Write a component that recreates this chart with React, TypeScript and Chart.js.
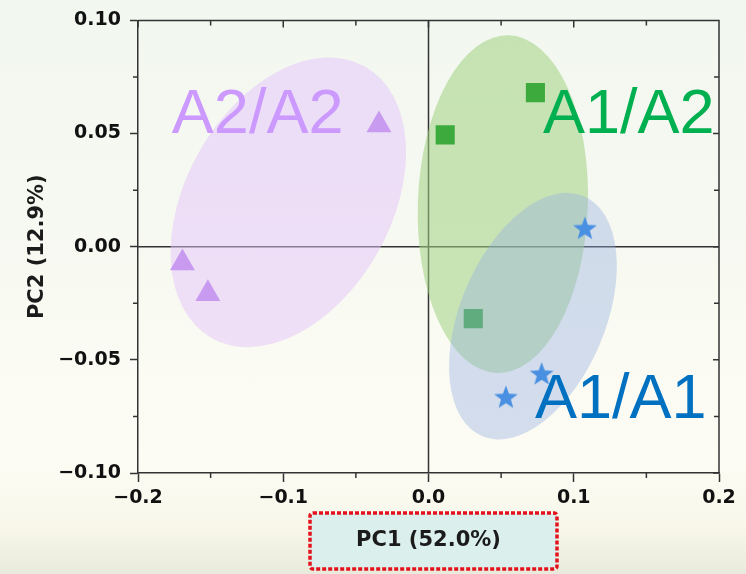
import React, { useEffect, useRef } from "react";
import { Chart, registerables } from "chart.js";

Chart.register(...registerables);

// ---- data ----
const xRange = [-0.2, 0.2];
const yRange = [-0.1, 0.1];
const xMinorTicks = [-0.15, -0.05, 0.05, 0.15];
const yMinorTicks = [-0.075, -0.025, 0.025, 0.075];

const groupNames = ["A1/A1", "A1/A2", "A2/A2"];

const a1a1X = [0.1077, 0.0779, 0.0533];
const a1a1Y = [0.008, -0.0563, -0.0666];
const a1a2X = [0.0115, 0.0736, 0.0308];
const a1a2Y = [0.0494, 0.0681, -0.0318];
const a2a2X = [-0.0341, -0.1694, -0.1519];
const a2a2Y = [0.0538, -0.0072, -0.0208];

// confidence ellipses (order: A1/A1, A1/A2, A2/A2): centre, end of major semi-axis, end of minor semi-axis
const ellipseCenters = [[0.0719, -0.0307], [0.0512, 0.0188], [-0.0965, 0.0196]];
const ellipseMajorEnds = [[0.1067, 0.0224], [0.0554, 0.0934], [-0.0435, 0.0795]];
const ellipseMinorEnds = [[0.118, -0.043], [0.1097, 0.0174], [-0.0352, -0.0029]];

// group label anchor (left, baseline)
const labelX = [0.0733, 0.0788, -0.1767];
const labelY = [-0.0757, 0.0501, 0.0501];

const xTitle = "PC1 (52.0%)";
const yTitle = "PC2 (12.9%)";

// ---- styles ----
const pointColors = ["rgb(74,144,226)", "#3daa3d", "#c89bf0"];
const ellipseFills = ["rgba(150,175,225,0.4)", "rgba(160,210,130,0.55)", "rgba(228,195,252,0.5)"];
const labelColors = ["#0070c0", "#00b050", "#cc99ff"];
const AXIS = "#333";
const TICK_FONT = { family: "'DejaVu Sans', sans-serif", size: 19, weight: "bold" as const };

function fmt(v: number, d: number) {
  if (Math.abs(v) < 1e-9) v = 0;
  const s = v.toFixed(d);
  return s.replace("-", "\u2212");
}

function makeStar(color: string) {
  const c = document.createElement("canvas");
  c.width = 26;
  c.height = 26;
  const g = c.getContext("2d")!;
  g.fillStyle = color;
  g.beginPath();
  for (let i = 0; i < 10; i++) {
    const r = i % 2 === 0 ? 12.5 : 5.2;
    const a = -Math.PI / 2 + (i * Math.PI) / 5;
    const px = 13 + r * Math.cos(a);
    const py = 13.5 + r * Math.sin(a);
    if (i === 0) g.moveTo(px, py);
    else g.lineTo(px, py);
  }
  g.closePath();
  g.fill();
  return c;
}

function drawEllipse(chart: any, i: number) {
  const xs = chart.scales.x;
  const ys = chart.scales.y;
  const ctx = chart.ctx;
  const cx = xs.getPixelForValue(ellipseCenters[i][0]);
  const cy = ys.getPixelForValue(ellipseCenters[i][1]);
  const ax = xs.getPixelForValue(ellipseMajorEnds[i][0]) - cx;
  const ay = ys.getPixelForValue(ellipseMajorEnds[i][1]) - cy;
  const bx = xs.getPixelForValue(ellipseMinorEnds[i][0]) - cx;
  const by = ys.getPixelForValue(ellipseMinorEnds[i][1]) - cy;
  ctx.save();
  ctx.beginPath();
  ctx.save();
  ctx.transform(ax, ay, bx, by, cx, cy);
  ctx.arc(0, 0, 1, 0, Math.PI * 2);
  ctx.restore();
  ctx.fillStyle = ellipseFills[i];
  ctx.fill();
  ctx.restore();
}

const decorPlugin = {
  id: "decor",
  beforeDatasetsDraw(chart: any) {
    const { ctx, chartArea: a } = chart;
    const xs = chart.scales.x;
    const ys = chart.scales.y;
    ctx.save();
    ctx.strokeStyle = AXIS;
    ctx.lineWidth = 1.5;
    const x0 = xs.getPixelForValue(0);
    const y0 = ys.getPixelForValue(0);
    ctx.beginPath();
    ctx.moveTo(x0, a.top);
    ctx.lineTo(x0, a.bottom);
    ctx.moveTo(a.left, y0);
    ctx.lineTo(a.right, y0);
    ctx.stroke();
    ctx.restore();
    drawEllipse(chart, 2);
    drawEllipse(chart, 1);
  },
  beforeDatasetDraw(chart: any, args: any) {
    if (args.index === 0) drawEllipse(chart, 0);
  },
  afterDatasetsDraw(chart: any) {
    const ctx = chart.ctx;
    const xs = chart.scales.x;
    const ys = chart.scales.y;
    ctx.save();
    ctx.font = "63px 'Liberation Sans', Arial, sans-serif";
    ctx.textBaseline = "alphabetic";
    ctx.textAlign = "left";
    for (let i = 0; i < groupNames.length; i++) {
      ctx.fillStyle = labelColors[i];
      ctx.fillText(groupNames[i], xs.getPixelForValue(labelX[i]), ys.getPixelForValue(labelY[i]));
    }
    ctx.restore();
  },
  afterDraw(chart: any) {
    const { ctx, chartArea: a } = chart;
    const xs = chart.scales.x;
    const ys = chart.scales.y;
    ctx.save();
    ctx.strokeStyle = AXIS;
    ctx.lineWidth = 1.5;
    ctx.beginPath();
    // top & right frame
    ctx.moveTo(a.left, a.top);
    ctx.lineTo(a.right, a.top);
    ctx.lineTo(a.right, a.bottom);
    // major ticks top (inward) & right (inward)
    for (let v = xRange[0]; v <= xRange[1] + 1e-9; v += 0.1) {
      const px = xs.getPixelForValue(v);
      ctx.moveTo(px, a.top);
      ctx.lineTo(px, a.top + 7);
    }
    for (let v = yRange[0]; v <= yRange[1] + 1e-9; v += 0.05) {
      const py = ys.getPixelForValue(v);
      ctx.moveTo(a.right, py);
      ctx.lineTo(a.right - 6, py);
    }
    for (const v of xMinorTicks) {
      const px = xs.getPixelForValue(v);
      ctx.moveTo(px, a.top);
      ctx.lineTo(px, a.top + 5);
      ctx.moveTo(px, a.bottom);
      ctx.lineTo(px, a.bottom + 5);
    }
    for (const v of yMinorTicks) {
      const py = ys.getPixelForValue(v);
      ctx.moveTo(a.right, py);
      ctx.lineTo(a.right - 5, py);
      ctx.moveTo(a.left, py);
      ctx.lineTo(a.left - 5, py);
    }
    ctx.stroke();

    // x-axis title in dashed red box
    const cx = (a.left + a.right) / 2 + 5;
    const bw = 247;
    const bh = 56;
    const top = a.bottom + 40;
    const left = cx - bw / 2;
    ctx.beginPath();
    ctx.roundRect(left, top, bw, bh, 3);
    ctx.fillStyle = "#dbefec";
    ctx.fill();
    ctx.setLineDash([4, 2]);
    ctx.lineWidth = 3.5;
    ctx.strokeStyle = "#e3121c";
    ctx.stroke();
    ctx.setLineDash([]);
    ctx.fillStyle = "#1b1b1b";
    ctx.font = "bold 21px 'DejaVu Sans', sans-serif";
    ctx.textAlign = "center";
    ctx.textBaseline = "middle";
    ctx.fillText(xTitle, cx - 5, top + bh / 2);
    ctx.restore();
  },
};

export default function App() {
  const ref = useRef<HTMLCanvasElement>(null);
  useEffect(() => {
    const canvas = ref.current!;
    const star = makeStar(pointColors[0]);
    const toPts = (xs: number[], ys: number[]) => xs.map((x, i) => ({ x, y: ys[i] }));
    const chart = new Chart(canvas, {
      type: "scatter",
      data: {
        datasets: [
          {
            label: groupNames[0],
            data: toPts(a1a1X, a1a1Y),
            pointStyle: star as any,
            pointRadius: 12,
            backgroundColor: pointColors[0],
            borderWidth: 0,
          },
          {
            label: groupNames[1],
            data: toPts(a1a2X, a1a2Y),
            pointStyle: "rect",
            pointRadius: 13.5,
            backgroundColor: pointColors[1],
            borderWidth: 0,
          },
          {
            label: groupNames[2],
            data: toPts(a2a2X, a2a2Y),
            pointStyle: "triangle",
            pointRadius: 14.4,
            backgroundColor: pointColors[2],
            borderWidth: 0,
          },
        ],
      },
      options: {
        animation: false,
        responsive: false,
        devicePixelRatio: 1,
        layout: { padding: { top: 20, right: 27, left: 0, bottom: 0 } },
        plugins: { legend: { display: false }, tooltip: { enabled: false } },
        scales: {
          x: {
            type: "linear",
            min: xRange[0],
            max: xRange[1],
            ticks: {
              stepSize: 0.1,
              callback: (v: any) => fmt(Number(v), 1),
              font: TICK_FONT,
              color: "#111",
              padding: 5,
              maxRotation: 0,
            },
            grid: { drawOnChartArea: false, tickLength: 9, tickColor: AXIS, tickWidth: 1.5 },
            border: { color: AXIS, width: 1.5 },
            afterFit: (s: any) => {
              s.height = 101;
            },
          },
          y: {
            type: "linear",
            min: yRange[0],
            max: yRange[1],
            ticks: {
              stepSize: 0.05,
              callback: (v: any) => fmt(Number(v), 2),
              font: TICK_FONT,
              color: "#111",
              padding: 9,
            },
            grid: { drawOnChartArea: false, tickLength: 8, tickColor: AXIS, tickWidth: 1.5 },
            border: { color: AXIS, width: 1.5 },
            title: {
              display: true,
              text: yTitle,
              color: "#1b1b1b",
              font: { family: "'DejaVu Sans', sans-serif", size: 21, weight: "bold" },
              padding: { top: 25, bottom: 0 },
            },
            afterFit: (s: any) => {
              s.width = 138;
            },
          },
        },
      },
      plugins: [decorPlugin],
    } as any);
    return () => chart.destroy();
  }, []);
  return (
    <div
      style={{
        position: "fixed",
        left: 0,
        top: 0,
        width: 746,
        height: 574,
        background:
          "linear-gradient(180deg, #f2f7f0 0%, #f6f9f1 35%, #fdfcf4 80%, #f8f7ea 92%, #e8eadb 100%)",
      }}
    >
      <canvas ref={ref} width={746} height={574} style={{ display: "block" }} />
    </div>
  );
}
